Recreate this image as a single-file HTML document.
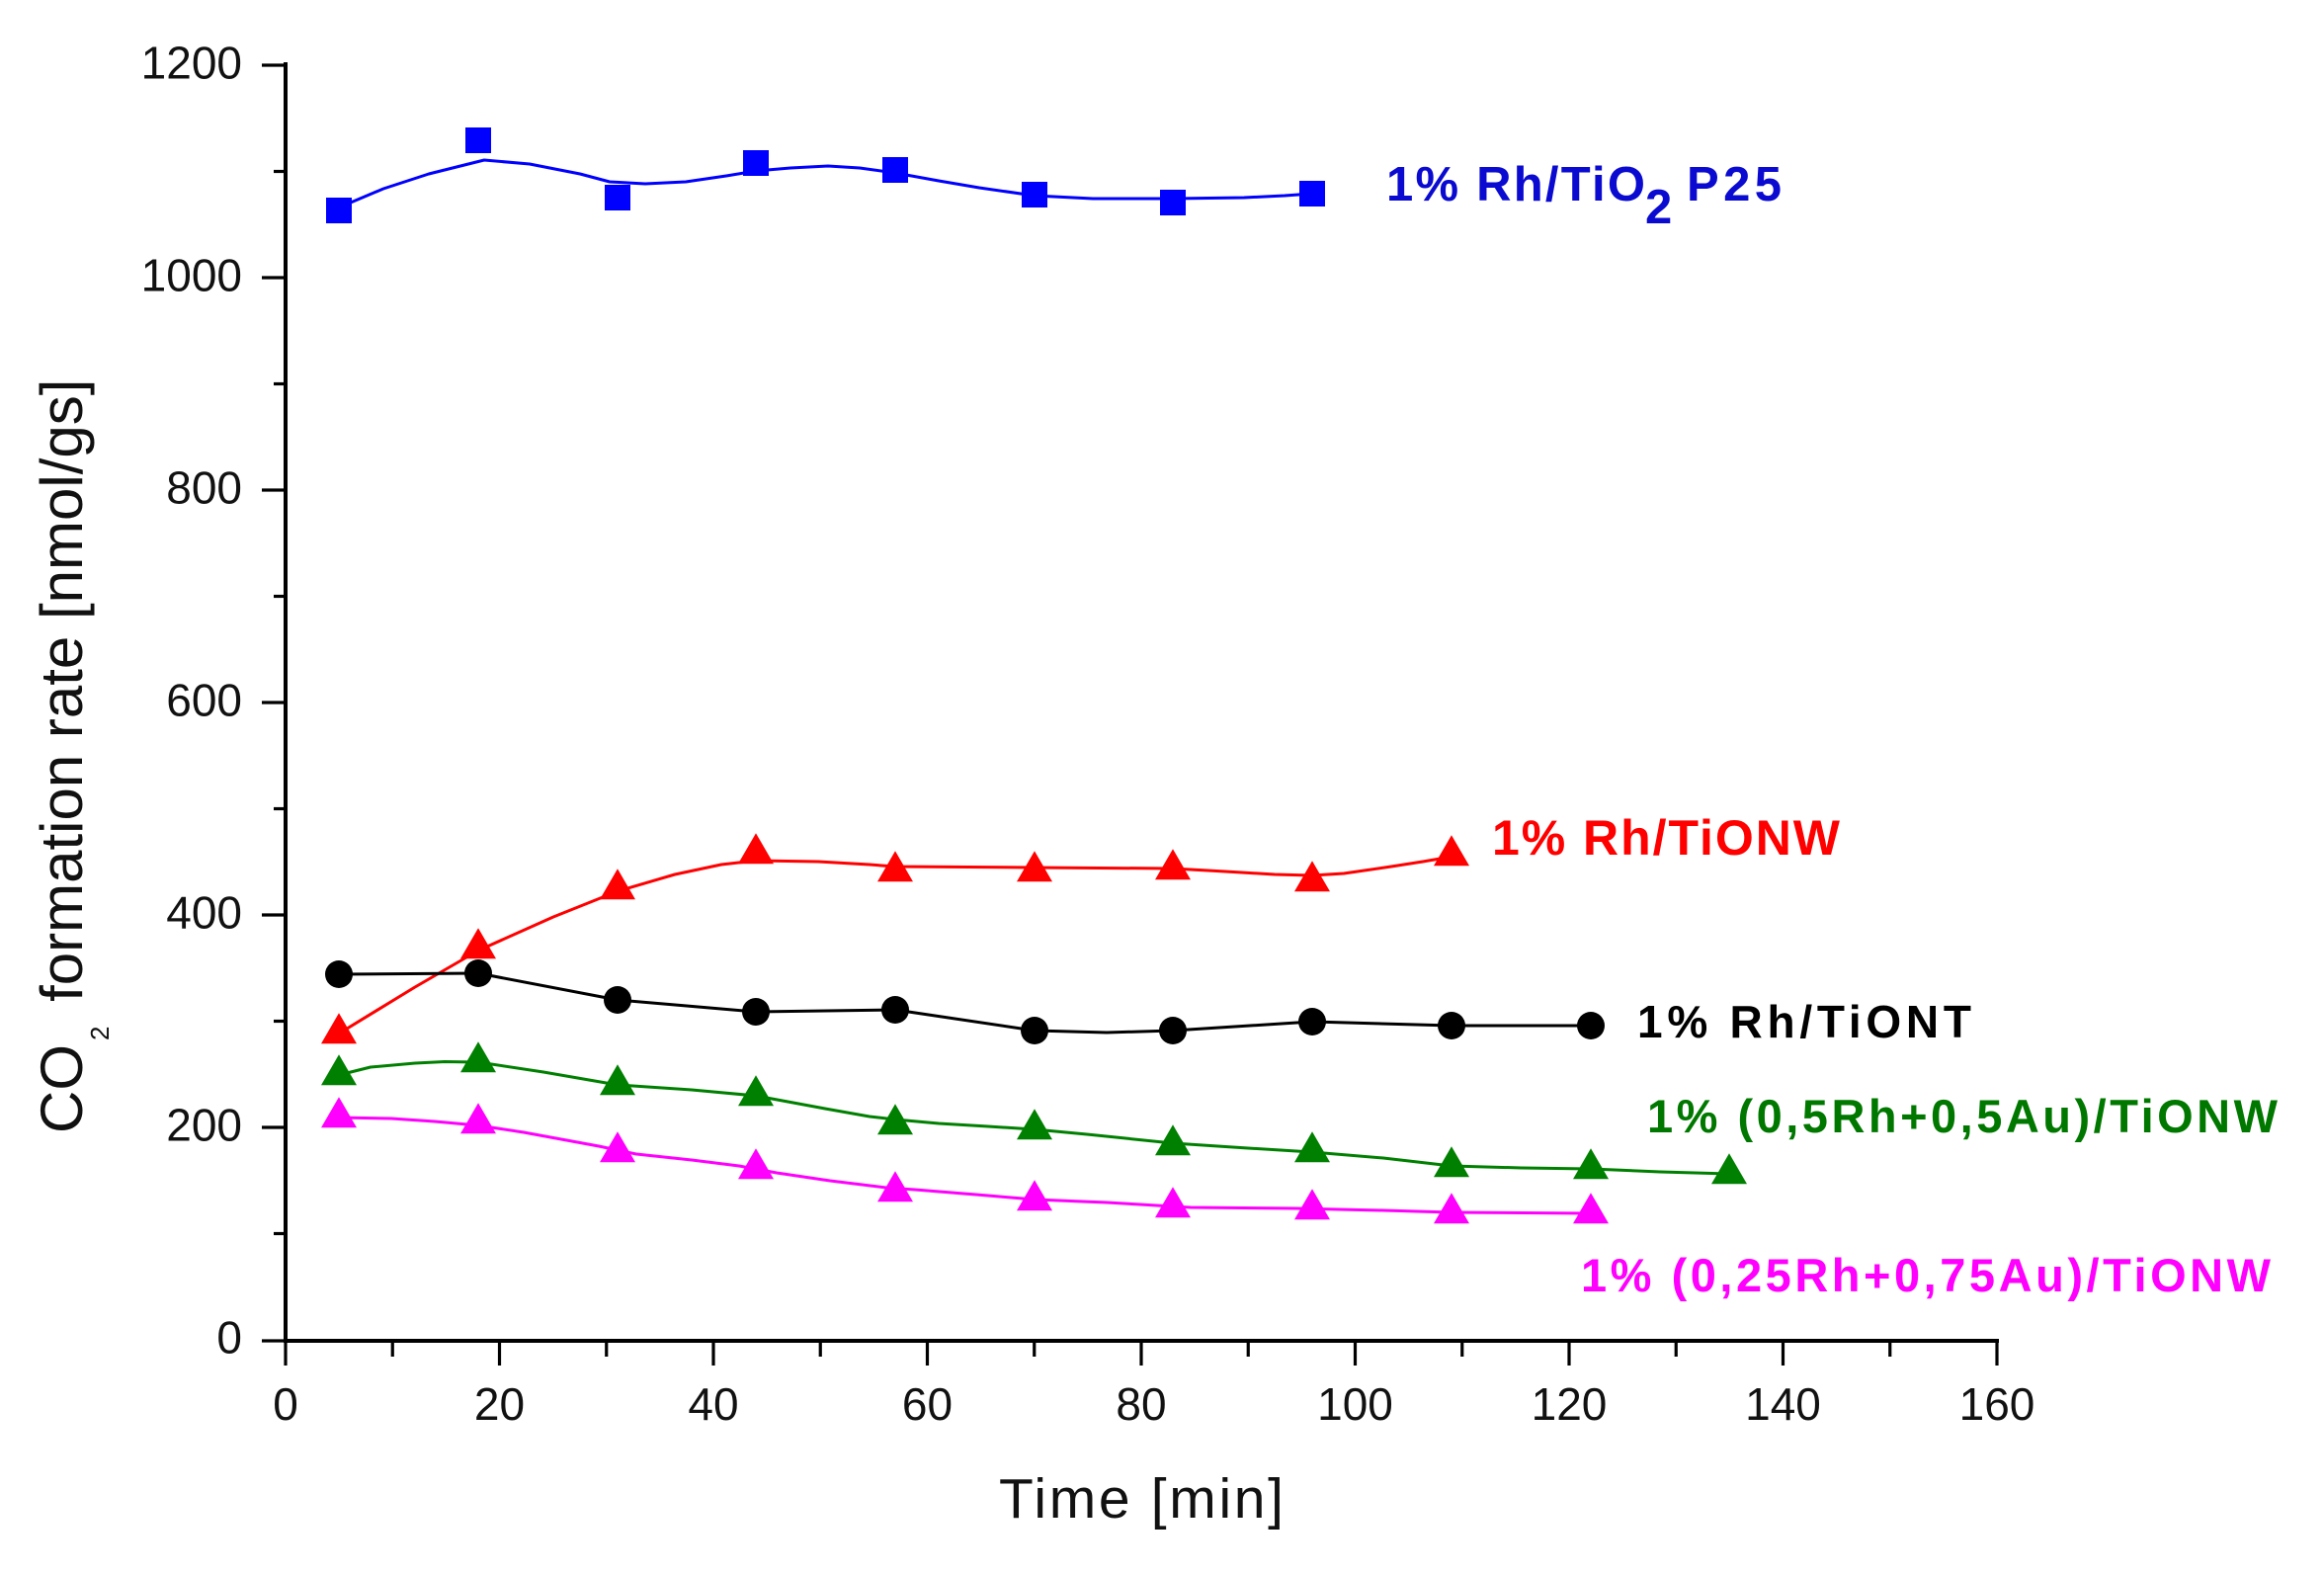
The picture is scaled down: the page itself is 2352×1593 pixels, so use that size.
<!DOCTYPE html>
<html>
<head>
<meta charset="utf-8">
<style>
html,body{margin:0;padding:0;background:#fff;overflow:hidden;}
svg{display:block;}
text{font-family:"Liberation Sans",Arial,sans-serif;}
</style>
</head>
<body>
<svg width="2352" height="1593" viewBox="0 0 2352 1593" xmlns="http://www.w3.org/2000/svg">
<defs>
<path id="tri" d="M-18,10.3 L0,-20.7 L18,10.3 Z"/>
<rect id="sq" x="-13" y="-13" width="26" height="26"/>
</defs>
<rect x="0" y="0" width="2352" height="1593" fill="#ffffff"/>

<!-- Axes -->
<g stroke="#000" stroke-width="4" fill="none" stroke-linecap="square">
<line x1="289" y1="65" x2="289" y2="1357"/>
<line x1="289" y1="1357" x2="2021" y2="1357"/>
</g>
<!-- Y ticks -->
<g stroke="#000" stroke-width="3.2">
<line x1="265" y1="1357" x2="289" y2="1357"/>
<line x1="277" y1="1248.5" x2="289" y2="1248.5"/>
<line x1="265" y1="1141" x2="289" y2="1141"/>
<line x1="277" y1="1033.5" x2="289" y2="1033.5"/>
<line x1="265" y1="926" x2="289" y2="926"/>
<line x1="277" y1="818.5" x2="289" y2="818.5"/>
<line x1="265" y1="711" x2="289" y2="711"/>
<line x1="277" y1="603.5" x2="289" y2="603.5"/>
<line x1="265" y1="496" x2="289" y2="496"/>
<line x1="277" y1="388.5" x2="289" y2="388.5"/>
<line x1="265" y1="281" x2="289" y2="281"/>
<line x1="277" y1="173.5" x2="289" y2="173.5"/>
<line x1="265" y1="66" x2="289" y2="66"/>
</g>
<!-- X ticks -->
<g stroke="#000" stroke-width="3.2">
<line x1="289" y1="1357" x2="289" y2="1382"/>
<line x1="397.25" y1="1357" x2="397.25" y2="1373"/>
<line x1="505.5" y1="1357" x2="505.5" y2="1382"/>
<line x1="613.75" y1="1357" x2="613.75" y2="1373"/>
<line x1="722" y1="1357" x2="722" y2="1382"/>
<line x1="830.25" y1="1357" x2="830.25" y2="1373"/>
<line x1="938.5" y1="1357" x2="938.5" y2="1382"/>
<line x1="1046.75" y1="1357" x2="1046.75" y2="1373"/>
<line x1="1155" y1="1357" x2="1155" y2="1382"/>
<line x1="1263.25" y1="1357" x2="1263.25" y2="1373"/>
<line x1="1371.5" y1="1357" x2="1371.5" y2="1382"/>
<line x1="1479.75" y1="1357" x2="1479.75" y2="1373"/>
<line x1="1588" y1="1357" x2="1588" y2="1382"/>
<line x1="1696.25" y1="1357" x2="1696.25" y2="1373"/>
<line x1="1804.5" y1="1357" x2="1804.5" y2="1382"/>
<line x1="1912.75" y1="1357" x2="1912.75" y2="1373"/>
<line x1="2021" y1="1357" x2="2021" y2="1382"/>
</g>

<!-- Y tick labels -->
<g font-size="46" fill="#111" text-anchor="end">
<text x="245" y="1369.5">0</text>
<text x="245" y="1154.5">200</text>
<text x="245" y="939.5">400</text>
<text x="245" y="724.5">600</text>
<text x="245" y="509.5">800</text>
<text x="245" y="294.5">1000</text>
<text x="245" y="79.5">1200</text>
</g>
<!-- X tick labels -->
<g font-size="46" fill="#111" text-anchor="middle">
<text x="289" y="1437">0</text>
<text x="505.5" y="1437">20</text>
<text x="722" y="1437">40</text>
<text x="938.5" y="1437">60</text>
<text x="1155" y="1437">80</text>
<text x="1371.5" y="1437">100</text>
<text x="1588" y="1437">120</text>
<text x="1804.5" y="1437">140</text>
<text x="2021" y="1437">160</text>
</g>

<!-- Axis titles -->
<text x="1011" y="1536" font-size="57" fill="#111" textLength="288" lengthAdjust="spacing">Time [min]</text>
<text transform="translate(83,1147) rotate(-90)" font-size="60" fill="#111">CO<tspan font-size="26" dx="4" dy="27">2</tspan><tspan dy="-27" dx="8"> formation rate [nmol/gs]</tspan></text>

<!-- Blue series -->
<polyline fill="none" stroke="#0000ff" stroke-width="3" stroke-linejoin="round" points="343,210 388,191 434,176 490,162 536,166 587,176 617,184 653,186 694,184 735,178 765,173 800,170 838,168 870,170 906,175 950,183 991,190 1047,198 1106,201 1187,201 1259,200 1300,198 1328,196"/>
<g fill="#0000ff">
<use href="#sq" x="343" y="213"/>
<use href="#sq" x="484" y="142"/>
<use href="#sq" x="625" y="200"/>
<use href="#sq" x="765" y="165"/>
<use href="#sq" x="906" y="172"/>
<use href="#sq" x="1047" y="197"/>
<use href="#sq" x="1187" y="205"/>
<use href="#sq" x="1328" y="196"/>
</g>

<!-- Red series -->
<polyline fill="none" stroke="#ff0000" stroke-width="3" stroke-linejoin="round" points="343,1046 420,999 484,962 560,928 625,902 683,885 730,875 765,871 828,872 880,875 906,877 1047,878 1187,879 1240,882 1290,885 1328,886 1360,884 1408,877 1440,872 1469,867"/>
<g fill="#ff0000">
<use href="#tri" x="343" y="1046"/>
<use href="#tri" x="484" y="960"/>
<use href="#tri" x="625" y="900"/>
<use href="#tri" x="765" y="864"/>
<use href="#tri" x="906" y="882"/>
<use href="#tri" x="1047" y="882"/>
<use href="#tri" x="1187" y="880"/>
<use href="#tri" x="1328" y="892"/>
<use href="#tri" x="1469" y="866"/>
</g>

<!-- Black series -->
<polyline fill="none" stroke="#000" stroke-width="3" stroke-linejoin="round" points="343,986 484,985 625,1012 765,1024 906,1022 1047,1043 1120,1045 1187,1043 1328,1034 1469,1038 1610,1038"/>
<g fill="#000">
<circle cx="343" cy="986" r="14"/>
<circle cx="484" cy="985" r="14"/>
<circle cx="625" cy="1012" r="14"/>
<circle cx="765" cy="1024" r="14"/>
<circle cx="906" cy="1022" r="14"/>
<circle cx="1047" cy="1043" r="14"/>
<circle cx="1187" cy="1043" r="14"/>
<circle cx="1328" cy="1034" r="14"/>
<circle cx="1469" cy="1038" r="14"/>
<circle cx="1610" cy="1038" r="14"/>
</g>

<!-- Green series -->
<polyline fill="none" stroke="#008000" stroke-width="3" stroke-linejoin="round" points="343,1088 375,1080 420,1076 450,1074.5 484,1075 550,1085 625,1098 700,1103 765,1109 835,1122 880,1130 906,1133 950,1137 1000,1140 1047,1143 1100,1148 1187,1157 1263,1162 1328,1166 1400,1172 1469,1180 1540,1182 1610,1183 1680,1186 1750,1188"/>
<g fill="#008000">
<use href="#tri" x="343" y="1088"/>
<use href="#tri" x="484" y="1075"/>
<use href="#tri" x="625" y="1098"/>
<use href="#tri" x="765" y="1109"/>
<use href="#tri" x="906" y="1138"/>
<use href="#tri" x="1047" y="1143"/>
<use href="#tri" x="1187" y="1159"/>
<use href="#tri" x="1328" y="1166"/>
<use href="#tri" x="1469" y="1181"/>
<use href="#tri" x="1610" y="1183"/>
<use href="#tri" x="1750" y="1188"/>
</g>

<!-- Magenta series -->
<polyline fill="none" stroke="#ff00ff" stroke-width="3" stroke-linejoin="round" points="343,1131 396,1132 440,1135 484,1139 530,1146 606,1160 644,1168 700,1174 748,1180 786,1187 840,1195 897,1202 926,1204 1000,1210 1047,1214 1120,1217 1205,1222 1312,1223 1400,1225 1469,1227 1610,1228"/>
<g fill="#ff00ff">
<use href="#tri" x="343" y="1131"/>
<use href="#tri" x="484" y="1137"/>
<use href="#tri" x="625" y="1166"/>
<use href="#tri" x="765" y="1183"/>
<use href="#tri" x="906" y="1206"/>
<use href="#tri" x="1047" y="1215"/>
<use href="#tri" x="1187" y="1222"/>
<use href="#tri" x="1328" y="1224"/>
<use href="#tri" x="1469" y="1228"/>
<use href="#tri" x="1610" y="1228"/>
</g>

<!-- Series labels -->
<g font-weight="bold">
<text x="1403" y="203" font-size="49" fill="#0a0ad0" textLength="262" lengthAdjust="spacing">1% Rh/TiO</text>
<text x="1665" y="226" font-size="49" fill="#0a0ad0">2</text>
<text x="1707" y="203" font-size="49" fill="#0a0ad0" textLength="96" lengthAdjust="spacing">P25</text>
<text x="1510" y="865" font-size="50" fill="#ff0000" textLength="352" lengthAdjust="spacing">1% Rh/TiONW</text>
<text x="1657" y="1050" font-size="46" fill="#000" textLength="338" lengthAdjust="spacing">1% Rh/TiONT</text>
<text x="1667" y="1146" font-size="47" fill="#007800" textLength="638" lengthAdjust="spacing">1% (0,5Rh+0,5Au)/TiONW</text>
<text x="1600" y="1307" font-size="47" fill="#ff00ff" textLength="698" lengthAdjust="spacing">1% (0,25Rh+0,75Au)/TiONW</text>
</g>
</svg>
</body>
</html>
